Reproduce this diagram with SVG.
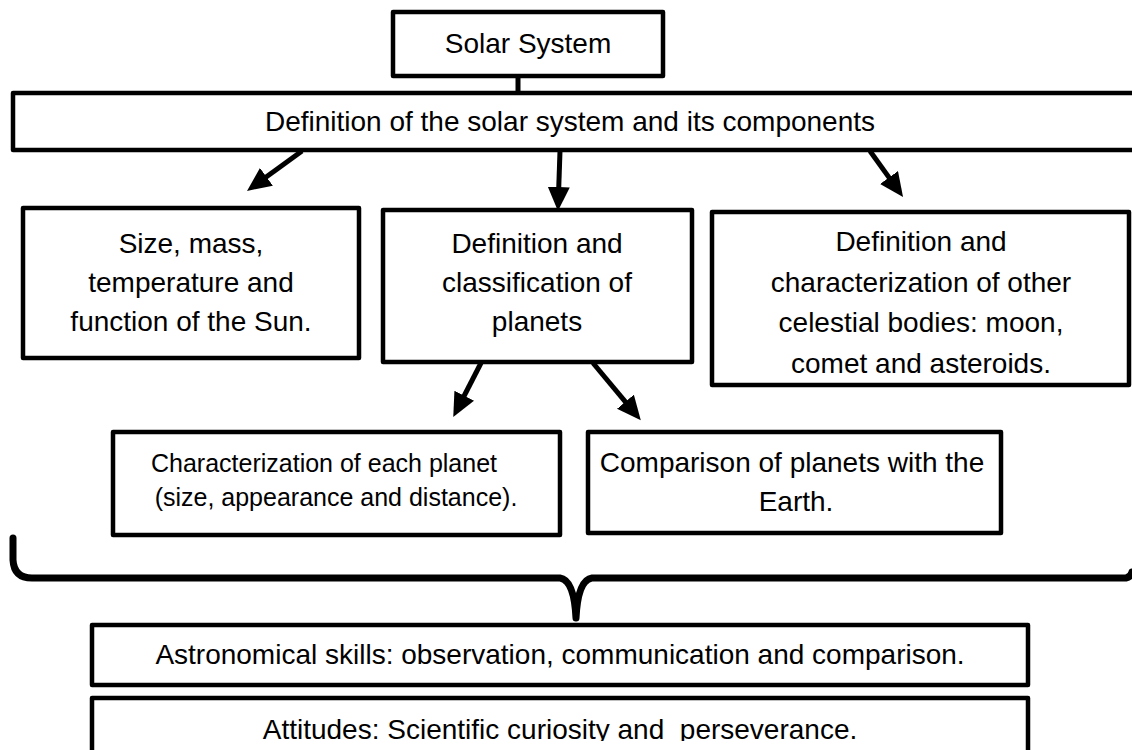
<svg xmlns="http://www.w3.org/2000/svg" width="1132" height="750" viewBox="0 0 1132 750">
<style>
.box{fill:#fff;stroke:#000;stroke-width:4.5;stroke-linejoin:round}
.t{font-family:"Liberation Sans",Arial,sans-serif;font-size:28px;fill:#000;text-anchor:middle}
.s{font-size:25px}
.con{stroke:#000;stroke-width:5;fill:none}
</style>
<defs>
<marker id="ah" markerUnits="userSpaceOnUse" markerWidth="26" markerHeight="24" refX="2" refY="11" orient="auto">
<path d="M0,0 L24,11 L0,22 z" fill="#000"/>
</marker>
<clipPath id="cb"><rect x="0" y="0" width="1132" height="741"/></clipPath>
</defs>
<rect width="1132" height="750" fill="#fff"/>
<g id="connectors">
<line class="con" x1="518" y1="76" x2="518" y2="94"/>
<line class="con" x1="302" y1="151" x2="264.8" y2="178" marker-end="url(#ah)"/>
<line class="con" x1="560" y1="151" x2="558.7" y2="189" marker-end="url(#ah)"/>
<line class="con" x1="870" y1="151" x2="890.2" y2="179.1" marker-end="url(#ah)"/>
<line class="con" x1="481" y1="363" x2="463.3" y2="397.5" marker-end="url(#ah)"/>
<line class="con" x1="593" y1="363" x2="626.7" y2="403.3" marker-end="url(#ah)"/>
<path d="M13,538 L13,560 Q14,578 32,578 L560,578 Q574,580 576,618 Q578,580 592,578 L1126,578 Q1131,577 1132,572" fill="none" stroke="#000" stroke-width="7" stroke-linecap="round" stroke-linejoin="round"/>
</g>
<g id="solar-system">
<rect class="box" x="393" y="12" width="270" height="64"/>
<text class="t" x="528" y="53">Solar System</text>
</g>
<g id="definition">
<rect class="box" x="13" y="93" width="1140" height="57"/>
<text class="t" x="570" y="131">Definition of the solar system and its components</text>
</g>
<g id="sun">
<rect class="box" x="23" y="208" width="336" height="150"/>
<text class="t" x="191" y="253">Size, mass,</text>
<text class="t" x="191" y="292">temperature and</text>
<text class="t" x="191" y="331">function of the Sun.</text>
</g>
<g id="planets">
<rect class="box" x="383" y="210" width="309" height="152"/>
<text class="t" x="537" y="253">Definition and</text>
<text class="t" x="537" y="292">classification of</text>
<text class="t" x="537" y="331">planets</text>
</g>
<g id="other-bodies">
<rect class="box" x="712" y="212" width="417" height="173"/>
<text class="t" x="921" y="251">Definition and</text>
<text class="t" x="921" y="292">characterization of other</text>
<text class="t" x="921" y="332">celestial bodies: moon,</text>
<text class="t" x="921" y="373">comet and asteroids.</text>
</g>
<g id="each-planet">
<rect class="box" x="113" y="432" width="447" height="103"/>
<text class="t s" x="324" y="472">Characterization of each planet</text>
<text class="t s" x="336" y="506">(size, appearance and distance).</text>
</g>
<g id="comparison">
<rect class="box" x="588" y="432" width="413" height="101"/>
<text class="t" x="792" y="472">Comparison of planets with the</text>
<text class="t" x="796" y="511">Earth.</text>
</g>
<g id="skills">
<rect class="box" x="92" y="625" width="936" height="60"/>
<text class="t" x="560" y="664">Astronomical skills: observation, communication and comparison.</text>
</g>
<g id="attitudes">
<rect class="box" x="92" y="698" width="936" height="70"/>
<text class="t" x="560" y="739" clip-path="url(#cb)" xml:space="preserve">Attitudes: Scientific curiosity and  perseverance.</text>
</g>
</svg>
